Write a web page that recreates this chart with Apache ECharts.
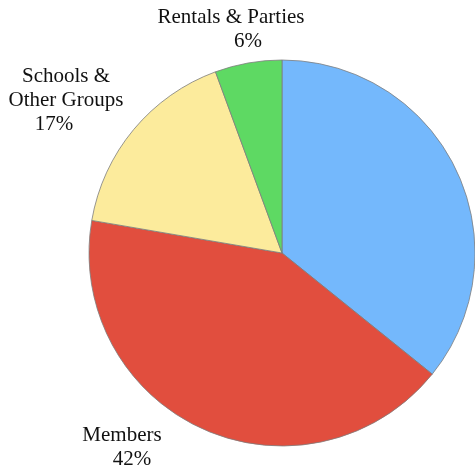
<!DOCTYPE html>
<html><head><meta charset="utf-8">
<script src="https://cdn.jsdelivr.net/npm/echarts@6/dist/echarts.min.js"></script>
<style>html,body{margin:0;padding:0;background:#fff}#c{width:475px;height:469px}</style>
</head><body><div id="c"></div>
<script>
const categories = ["General Admission", "Members", "Schools &\nOther Groups", "Rentals & Parties"];
const values = [35.8, 41.9, 16.7, 5.6];
const showLabel = [false, true, true, true];
const colors = ["#74B8FC", "#E14E3E", "#FCEB9C", "#5ED963"];

// label layout (positions/styles kept separate from the data)
const labelPos = [[0, 0], [122, 447], [66, 100], [231, 29]];
const pctPadding = [[0, 0, 0, 0], [0, 0, 0, 20], [0, 24, 0, 0], [0, 0, 0, 34]];

const chart = echarts.init(document.getElementById('c'));
chart.setOption({
  animation: false,
  series: [{
    type: 'pie',
    center: [282, 253],
    radius: [0, 193],
    startAngle: 90,
    clockwise: true,
    data: categories.map((n, i) => ({
      name: n, value: values[i],
      itemStyle: { color: colors[i] },
      label: {
        show: showLabel[i],
        rich: {
          n: { fontFamily: 'Liberation Serif', fontSize: 21, lineHeight: 24, color: '#111' },
          p: { fontFamily: 'Liberation Serif', fontSize: 21, lineHeight: 24, color: '#111', padding: pctPadding[i] }
        }
      }
    })),
    itemStyle: { borderColor: '#7d7d7d', borderWidth: 0.8 },
    label: {
      position: 'inside',
      overflow: 'none',
      formatter: function (p) {
        return p.name.split('\n').map(s => '{n|' + s + '}').join('\n') +
          '\n{p|' + Math.round(p.percent) + '%}';
      },
      align: 'center'
    },
    labelLine: { show: false },
    labelLayout: function (p) {
      const pos = labelPos[p.dataIndex];
      return { x: pos[0], y: pos[1], align: 'center', verticalAlign: 'middle' };
    }
  }]
});
</script></body></html>
